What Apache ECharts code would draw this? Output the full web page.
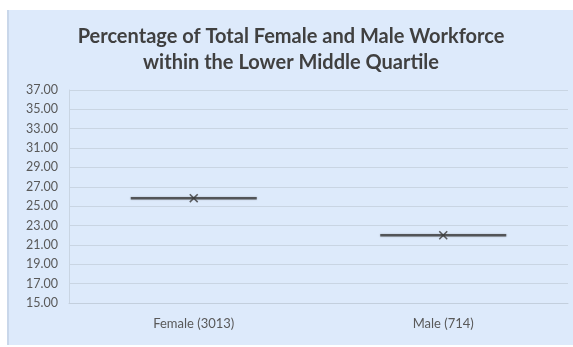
<!DOCTYPE html>
<html>
<head>
<meta charset="utf-8">
<style>
  html, body { margin: 0; padding: 0; background: #ffffff; }
  #chart { width: 573px; height: 347px; }
</style>
<script src="https://cdn.jsdelivr.net/npm/echarts@6/dist/echarts.min.js"></script>
</head>
<body>
<div id="chart"></div>
<script>
// Workforce groups and their share within the lower middle quartile (%)
const categories = ['Female (3013)', 'Male (714)'];
const quartileShare = [25.83, 22.0];
// y-axis range and step
const yMin = 15;
const yMax = 37;
const yStep = 2;

const chart = echarts.init(document.getElementById('chart'), null, { renderer: 'canvas' });

const fontFamily = 'Lato, "Open Sans", sans-serif';
const xMark = 'path://M0,1.2 L1.2,0 L5,3.8 L8.8,0 L10,1.2 L6.2,5 L10,8.8 L8.8,10 L5,6.2 L1.2,10 L0,8.8 L3.8,5 Z';

chart.setOption({
  backgroundColor: '#ffffff',
  animation: false,
  graphic: [
    {
      type: 'rect', z: -10, silent: true,
      shape: { x: 7, y: 10, width: 566, height: 335 },
      style: { fill: '#ddeafb' }
    },
    {
      type: 'rect', z: -9, silent: true,
      shape: { x: 7, y: 10, width: 2, height: 335 },
      style: { fill: '#c9d7ea' }
    }
  ],
  title: {
    text: 'Percentage of Total Female and Male Workforce\nwithin the Lower Middle Quartile',
    left: 286, top: 19, textAlign: 'center',
    textStyle: {
      fontFamily: fontFamily, fontSize: 20, fontWeight: 'bold',
      color: '#404040', lineHeight: 26
    }
  },
  grid: { left: 69, right: 5, top: 90, bottom: 44 },
  xAxis: {
    type: 'category',
    data: categories,
    axisLine: { show: true, lineStyle: { color: '#c3cfdd', width: 1 } },
    axisTick: { show: false },
    axisLabel: {
      fontFamily: fontFamily, fontSize: 13, color: '#595959', margin: 14
    },
    splitLine: { show: false }
  },
  yAxis: {
    type: 'value',
    min: yMin, max: yMax, interval: yStep,
    axisLine: { show: true, lineStyle: { color: '#c9d5e3', width: 1 } },
    axisTick: { show: false },
    axisLabel: {
      fontFamily: fontFamily, fontSize: 12.5, color: '#595959', margin: 11,
      formatter: v => v.toFixed(2)
    },
    splitLine: { show: true, lineStyle: { color: '#c9d5e3', width: 1 } }
  },
  series: [
    {
      // flat box: all quartiles coincide at the same value
      type: 'scatter',
      data: quartileShare,
      symbol: 'rect',
      symbolSize: [126, 2.5],
      itemStyle: { color: '#3a3a3a', shadowColor: 'rgba(0,0,0,0.3)', shadowBlur: 2 },
      z: 3
    },
    {
      // mean marker
      type: 'scatter',
      data: quartileShare,
      symbol: xMark,
      symbolSize: 9,
      itemStyle: { color: '#3a3a3a' },
      z: 4
    }
  ]
});
</script>
</body>
</html>
